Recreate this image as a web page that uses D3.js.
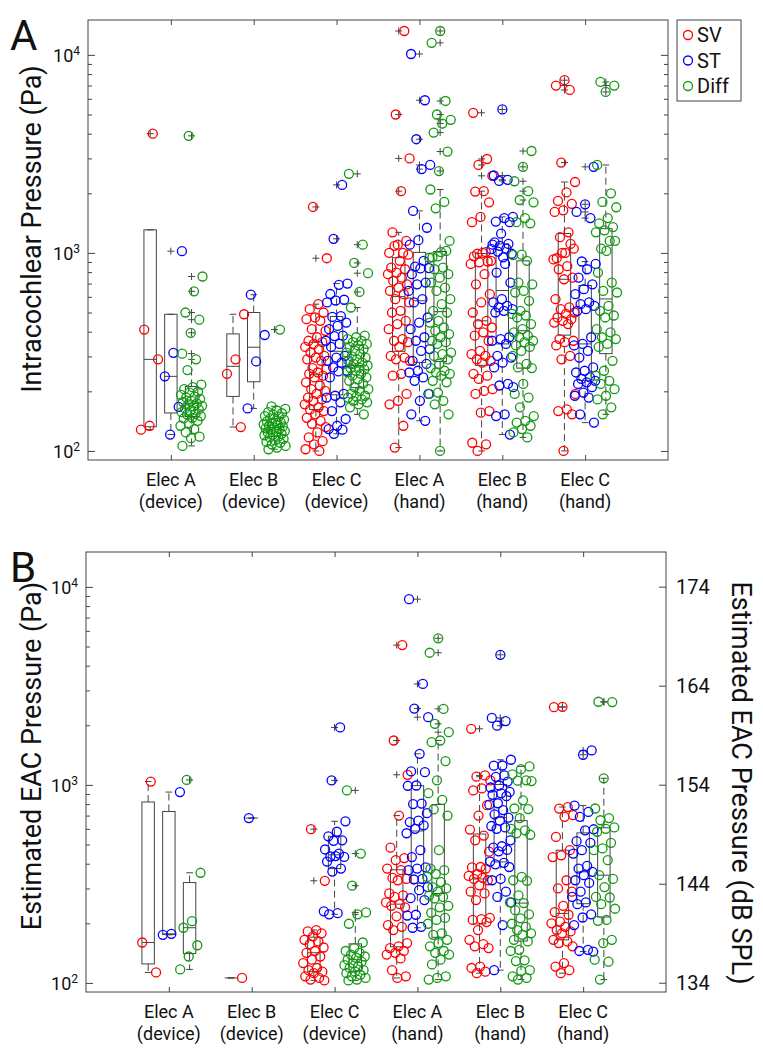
<!DOCTYPE html>
<html>
<head>
<meta charset="utf-8">
<script src="https://cdn.jsdelivr.net/npm/d3@7"></script>
<style>
body { margin: 0; background: #fff; }
svg text { font-family: Roboto, "Open Sans", sans-serif; fill: #111; }
</style>
</head>
<body>
<svg id="chart" width="763" height="1050"></svg>
<script>
// groups along the x axis (two-line tick labels)
var groupLine1 = ["Elec A", "Elec B", "Elec C", "Elec A", "Elec B", "Elec C"];
var groupLine2 = ["(device)", "(device)", "(device)", "(hand)", "(hand)", "(hand)"];
var seriesNames = ["SV", "ST", "Diff"];

// panel A : intracochlear pressure (Pa), one array per group
var intraSV = [
	[4000, 410, 290, 134, 128],
	[490, 290, 245, 132],
	[1706, 940, 551, 520, 500, 472, 463, 454, 412, 404, 375, 360, 354, 347, 335, 327, 314, 302, 296, 290, 285, 262, 258, 249, 245, 240, 235, 222, 214, 205, 201, 194, 186, 182, 179, 172, 166, 162, 159, 153, 147, 142, 137, 132, 124, 117, 112, 108, 102, 100],
	[13200, 5000, 3000, 2050, 1270, 1150, 1100, 1000, 1000, 1086, 980, 912, 843, 827, 796, 781, 750, 722, 694, 668, 643, 619, 584, 562, 510, 500, 454, 437, 412, 367, 360, 354, 335, 302, 296, 290, 285, 245, 240, 194, 179, 172, 134, 104],
	[5100, 2980, 2780, 2450, 2050, 2040, 1800, 1520, 1430, 1010, 990, 912, 1001, 960, 905, 896, 880, 781, 694, 619, 562, 500, 454, 437, 420, 397, 382, 360, 320, 308, 302, 290, 285, 279, 245, 240, 231, 205, 201, 194, 159, 156, 110, 108, 100],
	[7450, 7000, 6650, 2860, 2280, 2020, 1830, 1770, 1640, 1610, 1270, 1200, 1050, 1000, 940, 1110, 1001, 927, 857, 827, 750, 736, 584, 531, 520, 500, 492, 472, 463, 454, 445, 437, 367, 360, 354, 341, 302, 290, 194, 162, 159, 153, 100]
];
var intraST = [
	[1020, 313, 238, 167, 121],
	[615, 385, 283, 164],
	[2205, 1178, 700, 690, 620, 580, 575, 562, 480, 475, 445, 428, 412, 382, 380, 360, 347, 335, 302, 296, 285, 279, 264, 254, 252, 235, 194, 190, 186, 176, 159, 145, 134, 129, 128, 122],
	[10100, 5900, 3750, 2780, 2650, 1630, 1340, 1160, 1100, 912, 853, 838, 835, 781, 708, 694, 643, 584, 562, 472, 445, 412, 375, 360, 327, 320, 285, 275, 254, 249, 235, 226, 194, 179, 153, 142],
	[5300, 2460, 2340, 2310, 1520, 1500, 1440, 1430, 1250, 1100, 1050, 1015, 990, 950, 1130, 1110, 1086, 1044, 880, 796, 708, 584, 562, 540, 531, 520, 510, 500, 375, 367, 360, 347, 302, 296, 279, 264, 218, 214, 210, 153, 150, 121],
	[2720, 1760, 1610, 1500, 905, 880, 827, 750, 694, 656, 619, 562, 551, 540, 520, 510, 375, 347, 341, 320, 296, 264, 254, 249, 235, 231, 226, 222, 218, 210, 197, 190, 186, 153, 139]
];
var intraDiff = [
	[3900, 760, 640, 500, 460, 395, 310, 290, 256, 216, 210, 205, 199, 197, 192, 188, 186, 183, 179, 177, 174, 172, 169, 168, 164, 162, 159, 157, 154, 153, 150, 147, 146, 142, 138, 134, 129, 124, 118, 116, 106],
	[410, 168, 163, 160, 157, 155, 152, 150, 149, 146, 144, 142, 141, 139, 138, 136, 135, 134, 133, 131, 130, 129, 128, 126, 125, 124, 122, 121, 120, 118, 117, 115, 113, 111, 110, 108, 106, 104, 102],
	[2507, 1100, 890, 790, 635, 530, 382, 375, 367, 360, 354, 347, 341, 335, 327, 320, 314, 308, 300, 296, 290, 285, 279, 275, 270, 264, 262, 258, 254, 250, 245, 240, 235, 230, 226, 218, 210, 205, 201, 194, 190, 188, 186, 182, 179, 176, 172, 166, 153],
	[13200, 11500, 5850, 5000, 4700, 4500, 4050, 3250, 2590, 2090, 1810, 1680, 1150, 1010, 950, 1023, 960, 945, 843, 827, 781, 750, 708, 668, 643, 584, 551, 510, 500, 454, 445, 420, 404, 389, 375, 360, 354, 347, 314, 308, 302, 290, 275, 262, 254, 249, 245, 240, 226, 222, 197, 194, 179, 172, 153, 100],
	[3270, 2720, 2300, 2050, 1850, 1800, 1500, 1430, 1410, 980, 975, 912, 708, 694, 643, 631, 573, 510, 492, 483, 472, 437, 412, 397, 382, 375, 360, 354, 341, 335, 320, 302, 275, 264, 262, 218, 194, 186, 166, 150, 142, 139, 134, 129, 124, 117],
	[7300, 7000, 6500, 2780, 2000, 1810, 1700, 1500, 1410, 1350, 1300, 1270, 1150, 1050, 1151, 1023, 796, 708, 643, 631, 540, 510, 483, 472, 412, 397, 375, 367, 347, 335, 285, 254, 240, 226, 218, 205, 190, 182, 166, 153]
];

// panel B : estimated ear canal pressure (Pa)
var eacSV = [
	[1040, 160, 113],
	[106],
	[598, 328, 185, 182, 178, 172, 165, 162, 157, 151, 145, 142, 136, 131, 126, 119, 116, 114, 112, 108, 106, 104, 103],
	[5080, 1676, 1125, 700, 482, 427, 417, 378, 371, 339, 335, 330, 283, 277, 272, 255, 250, 245, 241, 217, 196, 192, 185, 159, 153, 150, 145, 142, 139, 133, 116, 108, 106],
	[1920, 1117, 1100, 1054, 960, 938, 790, 700, 595, 555, 525, 460, 385, 383, 378, 355, 347, 339, 335, 330, 311, 289, 283, 262, 213, 210, 208, 203, 185, 165, 157, 153, 150, 121, 119, 114, 112],
	[2480, 2470, 773, 759, 703, 690, 546, 468, 441, 432, 330, 300, 289, 245, 228, 221, 204, 200, 192, 185, 182, 178, 165, 162, 159, 153, 126, 121, 116, 112]
];
var eacST = [
	[920, 177, 175],
	[680],
	[1950, 1054, 655, 580, 550, 525, 522, 472, 450, 435, 433, 437, 410, 378, 365, 230, 225, 222],
	[8670, 3235, 2430, 2198, 1436, 1170, 1160, 993, 990, 805, 800, 720, 660, 649, 625, 600, 570, 468, 432, 383, 378, 371, 335, 333, 305, 294, 268, 262, 221, 219, 192, 190],
	[4540, 2180, 2100, 1990, 1340, 1253, 1250, 1040, 993, 970, 1117, 1098, 922, 907, 892, 877, 808, 795, 746, 710, 684, 660, 620, 610, 600, 525, 490, 482, 470, 462, 410, 404, 397, 385, 335, 330, 289, 272, 255, 196, 116],
	[1493, 1420, 786, 730, 690, 597, 590, 520, 510, 468, 450, 390, 378, 364, 350, 330, 320, 289, 272, 255, 250, 222, 214, 196, 147, 145, 144]
];
var eacDiff = [
	[1060, 360, 205, 190, 155, 136, 117],
	[],
	[938, 450, 310, 227, 222, 199, 160, 150, 145, 142, 139, 136, 134, 131, 128, 126, 123, 121, 119, 116, 114, 112, 110, 108, 106, 104, 103],
	[5500, 4650, 2420, 2034, 1846, 1676, 1644, 1320, 1055, 908, 840, 752, 700, 468, 378, 371, 355, 343, 323, 305, 300, 289, 277, 272, 267, 245, 241, 226, 213, 208, 199, 178, 175, 165, 159, 153, 145, 142, 139, 131, 124, 108, 106, 104],
	[1240, 1200, 1130, 1055, 1050, 1045, 836, 760, 755, 680, 600, 590, 570, 560, 343, 330, 328, 277, 255, 253, 233, 222, 212, 199, 192, 185, 178, 175, 165, 162, 147, 145, 130, 129, 116, 115, 108, 106, 104],
	[2630, 2620, 1080, 760, 680, 663, 610, 600, 580, 510, 478, 468, 417, 350, 335, 305, 272, 270, 250, 237, 208, 206, 165, 159, 131, 128, 104]
];

// right axis of panel B, dB SPL re 20 uPa
var dbTicks = [134, 144, 154, 164, 174];
var decadeTicks = [100, 1000, 10000];

var seriesColors = ["#ff0000", "#0000ff", "#139a13"];
var seriesOffsets = [-0.25, 0, 0.25];
var axisColor = "#444";
var boxHalf = 0.075, capHalf = 0.04, jitterWidth = 0.27;

var svg = d3.select("#chart");

// percentile the way matlab prctile does it
var prctile = function(s, p) {
	var n = s.length, pos = n * p / 100 + 0.5;
	if (pos <= 1) return s[0];
	if (pos >= n) return s[n - 1];
	var lo = Math.floor(pos), f = pos - lo;
	return s[lo - 1] + f * (s[lo] - s[lo - 1]);
};

var boxStats = function(vals) {
	var s = vals.slice().sort(d3.ascending);
	var q1 = prctile(s, 25), med = prctile(s, 50), q3 = prctile(s, 75);
	var iqr = q3 - q1;
	var inside = s.filter(function(v) { return v >= q1 - 1.5 * iqr && v <= q3 + 1.5 * iqr; });
	var lo = Math.min(d3.min(inside), q1), hi = Math.max(d3.max(inside), q3);
	return { q1: q1, med: med, q3: q3, lo: lo, hi: hi,
		outliers: s.filter(function(v) { return v < q1 - 1.5 * iqr || v > q3 + 1.5 * iqr; }) };
};

var jitter = function(i, k) {
	var u = ((i + 1) * 0.6180339887 + k * 0.377) % 1;
	return (u - 0.5) * jitterWidth;
};

var drawPanel = function(cfg) {
	var W = 580, H = 440;
	var x = d3.scaleLinear().domain([0, 7]).range([cfg.left, cfg.left + W]);
	var y = d3.scaleLog().domain([90, 15000]).range([cfg.top + H, cfg.top]);
	var g = svg.append("g");

	var minor = [];
	[100, 1000].forEach(function(d) { for (var m = 2; m <= 9; m++) minor.push(d * m); });

	var tickStyle = function(sel) {
		sel.select(".domain").remove();
		sel.selectAll("line").attr("stroke", axisColor);
	};

	// ticks, all pointing inwards
	g.append("g").attr("transform", "translate(" + cfg.left + ",0)")
		.call(d3.axisLeft(y).tickValues(minor).tickSize(-4).tickFormat("")).call(tickStyle);
	g.append("g").attr("transform", "translate(" + cfg.left + ",0)")
		.call(d3.axisLeft(y).tickValues(decadeTicks).tickSize(-7).tickFormat("")).call(tickStyle);
	if (cfg.dbAxis) {
		var pa = dbTicks.map(function(d) { return 20e-6 * Math.pow(10, d / 20); });
		g.append("g").attr("transform", "translate(" + (cfg.left + W) + ",0)")
			.call(d3.axisRight(y).tickValues(pa).tickSize(-7).tickFormat("")).call(tickStyle);
		g.selectAll(".dblab").data(dbTicks).enter().append("text")
			.attr("x", cfg.left + W + 10)
			.attr("y", function(d, i) { return y(pa[i]); })
			.attr("dy", "0.36em")
			.style("font-size", "20px")
			.text(function(d) { return d; });
	} else {
		g.append("g").attr("transform", "translate(" + (cfg.left + W) + ",0)")
			.call(d3.axisRight(y).tickValues(minor).tickSize(-4).tickFormat("")).call(tickStyle);
		g.append("g").attr("transform", "translate(" + (cfg.left + W) + ",0)")
			.call(d3.axisRight(y).tickValues(decadeTicks).tickSize(-7).tickFormat("")).call(tickStyle);
	}
	g.append("g").attr("transform", "translate(0," + (cfg.top + H) + ")")
		.call(d3.axisBottom(x).tickValues([1, 2, 3, 4, 5, 6]).tickSize(-5).tickFormat("")).call(tickStyle);
	g.append("g").attr("transform", "translate(0," + cfg.top + ")")
		.call(d3.axisTop(x).tickValues([1, 2, 3, 4, 5, 6]).tickSize(-5).tickFormat("")).call(tickStyle);

	g.append("rect")
		.attr("x", cfg.left).attr("y", cfg.top)
		.attr("width", W).attr("height", H)
		.attr("fill", "none").attr("stroke", axisColor);

	// decade labels 10^n
	decadeTicks.forEach(function(d) {
		var t = g.append("text")
			.attr("x", cfg.left - 8).attr("y", y(d)).attr("dy", "0.42em")
			.attr("text-anchor", "end").style("font-size", "18px");
		t.append("tspan").text("10");
		t.append("tspan").attr("dy", "-0.6em").style("font-size", "12px").text(Math.round(Math.log10(d)));
	});

	// group labels, two lines
	groupLine1.forEach(function(d, i) {
		var t = g.append("text").attr("y", cfg.top + H + 26)
			.attr("text-anchor", "middle").style("font-size", "18px");
		t.append("tspan").attr("x", x(i + 1)).text(d);
		t.append("tspan").attr("x", x(i + 1)).attr("dy", 21.5).text(groupLine2[i]);
	});

	// axis titles and panel letter
	g.append("text")
		.attr("transform", "translate(" + 41 + "," + cfg.labelMid + ") rotate(-90)")
		.attr("text-anchor", "middle").style("font-size", "27px").text(cfg.ylabel);
	if (cfg.rightLabel) {
		g.append("text")
			.attr("transform", "translate(" + 732 + "," + (cfg.top + 231) + ") rotate(90)")
			.attr("text-anchor", "middle").style("font-size", "27px").text(cfg.rightLabel);
	}
	g.append("text").attr("x", 10).attr("y", cfg.top + 30)
		.style("font-size", "42px").text(cfg.letter);

	// boxes, whiskers, outlier crosses, then the points
	var marks = g.append("g");
	var dots = g.append("g");
	cfg.series.forEach(function(ser, k) {
		ser.forEach(function(vals, gi) {
			if (!vals.length) return;
			var cx = gi + 1 + seriesOffsets[k];
			var st = boxStats(vals);
			var line = function(x1, y1, x2, y2, dash) {
				marks.append("line")
					.attr("x1", x(x1)).attr("x2", x(x2)).attr("y1", y(y1)).attr("y2", y(y2))
					.attr("stroke", axisColor).attr("stroke-width", 1)
					.attr("stroke-dasharray", dash ? "7,4" : null);
			};
			if (st.hi > st.q3) line(cx, st.q3, cx, st.hi, true);
			if (st.lo < st.q1) line(cx, st.q1, cx, st.lo, true);
			line(cx - capHalf, st.hi, cx + capHalf, st.hi);
			line(cx - capHalf, st.lo, cx + capHalf, st.lo);
			marks.append("rect")
				.attr("x", x(cx - boxHalf)).attr("width", x(cx + boxHalf) - x(cx - boxHalf))
				.attr("y", y(st.q3)).attr("height", Math.max(0, y(st.q1) - y(st.q3)))
				.attr("fill", "none").attr("stroke", axisColor).attr("stroke-width", 1);
			line(cx - boxHalf, st.med, cx + boxHalf, st.med);
			st.outliers.forEach(function(v) {
				marks.append("path")
					.attr("transform", "translate(" + x(cx) + "," + y(v) + ")")
					.attr("d", "M-3.5,0H3.5M0,-3.5V3.5")
					.attr("stroke", axisColor).attr("stroke-width", 1).attr("fill", "none");
			});
			dots.selectAll(null).data(vals).enter().append("circle")
				.attr("cx", function(v, i) { return x(cx + jitter(i, k + gi)); })
				.attr("cy", function(v) { return y(v); })
				.attr("r", 4.5)
				.attr("fill", "none")
				.attr("stroke", seriesColors[k])
				.attr("stroke-width", 1.3);
		});
	});

	if (cfg.legend) {
		var lg = g.append("g");
		lg.append("rect").attr("x", 677).attr("y", cfg.top).attr("width", 64).attr("height", 81)
			.attr("fill", "#fff").attr("stroke", axisColor);
		seriesNames.forEach(function(d, i) {
			lg.append("circle").attr("cx", 688).attr("cy", cfg.top + 15 + i * 25.5).attr("r", 4.5)
				.attr("fill", "none").attr("stroke", seriesColors[i]).attr("stroke-width", 1.3);
			lg.append("text").attr("x", 697).attr("y", cfg.top + 15 + i * 25.5).attr("dy", "0.36em")
				.style("font-size", "20px").text(d);
		});
	}
};

drawPanel({ top: 20, left: 88, letter: "A", ylabel: "Intracochlear Pressure (Pa)", labelMid: 229,
	series: [intraSV, intraST, intraDiff], legend: true });
drawPanel({ top: 552, left: 86, letter: "B", ylabel: "Estimated EAC Pressure (Pa)", labelMid: 756,
	rightLabel: "Estimated EAC Pressure (dB SPL)", dbAxis: true,
	series: [eacSV, eacST, eacDiff] });
</script>
</body>
</html>
